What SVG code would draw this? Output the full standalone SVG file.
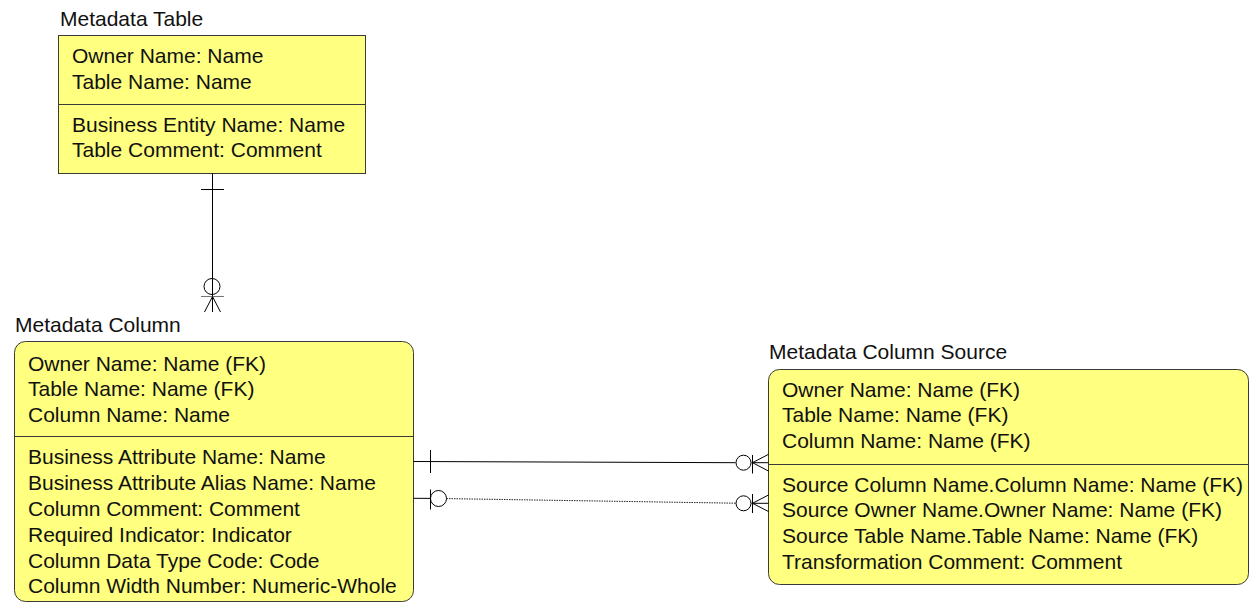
<svg xmlns="http://www.w3.org/2000/svg" width="1249" height="603" viewBox="0 0 1249 603">
  <style>
    .box { fill: #ffff80; stroke: #3a3a3a; stroke-width: 1; }
    .sep { stroke: #3a3a3a; stroke-width: 1; }
    .title, .attr { font-family: "Liberation Sans", Arial, sans-serif; font-size: 21px; fill: #111; }
    .rel { fill: none; stroke: #000; stroke-width: 1; }
    .dot { fill: none; stroke: #222; stroke-width: 1; stroke-dasharray: 1.5 1; }
  </style>
  <rect width="1249" height="603" fill="#fff"/>

  <!-- Metadata Table (independent entity, square corners) -->
  <g id="metadata-table">
    <text class="title" x="60" y="26">Metadata Table</text>
    <rect class="box" x="58.5" y="35.5" width="307" height="138"/>
    <line class="sep" x1="58.5" y1="104.5" x2="365.5" y2="104.5"/>
    <text class="attr" x="72" y="63">Owner Name: Name</text>
    <text class="attr" x="72" y="88.5">Table Name: Name</text>
    <text class="attr" x="72" y="131.5">Business Entity Name: Name</text>
    <text class="attr" x="72" y="157">Table Comment: Comment</text>
  </g>

  <!-- Metadata Column (dependent entity, rounded corners) -->
  <g id="metadata-column">
    <text class="title" x="15" y="332">Metadata Column</text>
    <rect class="box" x="14.5" y="341.5" width="399" height="260" rx="11" ry="11"/>
    <line class="sep" x1="14.5" y1="436.5" x2="413.5" y2="436.5"/>
    <text class="attr" x="28" y="370.5">Owner Name: Name (FK)</text>
    <text class="attr" x="28" y="396">Table Name: Name (FK)</text>
    <text class="attr" x="28" y="421.5">Column Name: Name</text>
    <text class="attr" x="28" y="464">Business Attribute Name: Name</text>
    <text class="attr" x="28" y="490">Business Attribute Alias Name: Name</text>
    <text class="attr" x="28" y="515.5">Column Comment: Comment</text>
    <text class="attr" x="28" y="541.5">Required Indicator: Indicator</text>
    <text class="attr" x="28" y="567.5">Column Data Type Code: Code</text>
    <text class="attr" x="28" y="593">Column Width Number: Numeric-Whole</text>
  </g>

  <!-- Metadata Column Source (dependent entity, rounded corners) -->
  <g id="metadata-column-source">
    <text class="title" x="769" y="359">Metadata Column Source</text>
    <rect class="box" x="768.5" y="369.5" width="480" height="215" rx="11" ry="11"/>
    <line class="sep" x1="768.5" y1="464.5" x2="1248.5" y2="464.5"/>
    <text class="attr" x="782" y="396.5">Owner Name: Name (FK)</text>
    <text class="attr" x="782" y="422">Table Name: Name (FK)</text>
    <text class="attr" x="782" y="448">Column Name: Name (FK)</text>
    <text class="attr" x="782" y="491.5">Source Column Name.Column Name: Name (FK)</text>
    <text class="attr" x="782" y="517">Source Owner Name.Owner Name: Name (FK)</text>
    <text class="attr" x="782" y="543">Source Table Name.Table Name: Name (FK)</text>
    <text class="attr" x="782" y="569">Transformation Comment: Comment</text>
  </g>

  <!-- Relationships -->
  <g id="connectors">
    <!-- Metadata Table 1 : 0..* Metadata Column -->
    <g id="rel-table-column">
      <line class="rel" x1="212.5" y1="173.5" x2="212.5" y2="312"/>
      <line class="rel" x1="201" y1="189.5" x2="224" y2="189.5"/>
      <circle class="rel" cx="212" cy="286.5" r="8"/>
      <line x1="201" y1="296.5" x2="224" y2="296.5" stroke="#777" stroke-width="1"/>
      <polyline class="rel" points="204.5,312 212.5,296.5 220.5,312"/>
    </g>

    <!-- Metadata Column 1 : 0..* Metadata Column Source (identifying) -->
    <g id="rel-column-source">
      <line class="rel" x1="413.5" y1="461.5" x2="735.5" y2="462.7"/>
      <line class="rel" x1="751.5" y1="462.7" x2="768.5" y2="462.7"/>
      <line class="rel" x1="430.5" y1="450" x2="430.5" y2="473"/>
      <circle class="rel" cx="743.5" cy="462.7" r="7.5"/>
      <line class="rel" x1="752.5" y1="455" x2="752.5" y2="473.5"/>
      <polyline class="rel" points="768.5,454.3 752.5,462.7 768.5,471"/>
    </g>

    <!-- Metadata Column 0..1 : 0..* Metadata Column Source (non-identifying) -->
    <g id="rel-column-source-src">
      <line class="rel" x1="413.5" y1="498.3" x2="430.5" y2="498.4"/>
      <line class="rel" x1="430.5" y1="489.5" x2="430.5" y2="509.5"/>
      <circle class="rel" cx="438.5" cy="498.5" r="8"/>
      <line class="dot" x1="446.5" y1="498.6" x2="735.5" y2="503.2"/>
      <line class="rel" x1="751.5" y1="503.3" x2="768.5" y2="503.3"/>
      <circle class="rel" cx="743.5" cy="503.3" r="7.5"/>
      <line class="rel" x1="752.5" y1="494" x2="752.5" y2="513"/>
      <polyline class="rel" points="768.5,495 752.5,503.3 768.5,511.5"/>
    </g>
  </g>
</svg>
